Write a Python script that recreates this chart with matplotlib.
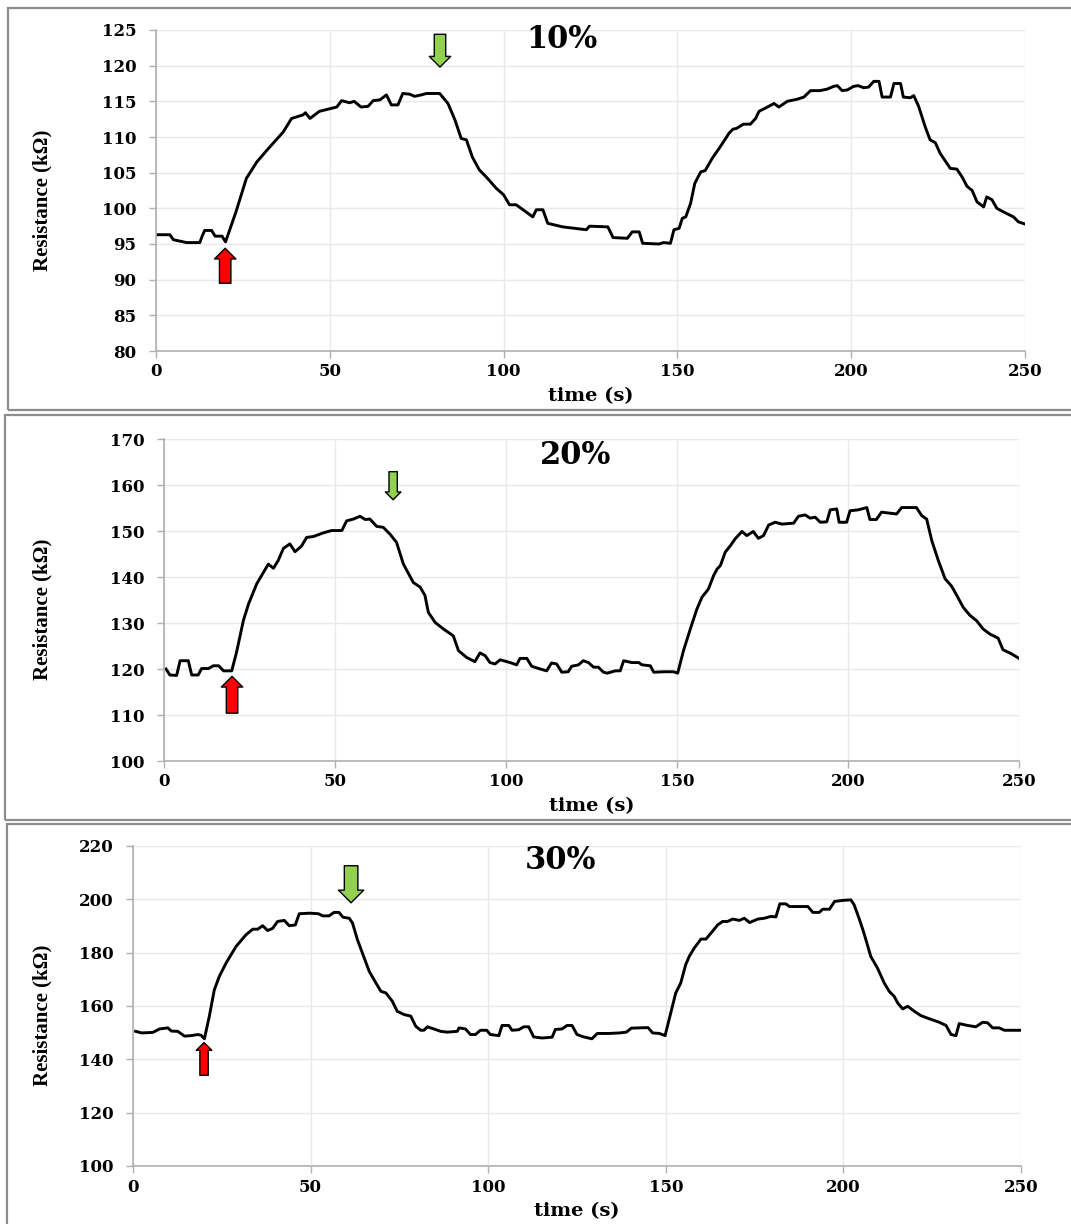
import matplotlib
matplotlib.use("Agg")
import matplotlib.pyplot as plt
from matplotlib.patches import Rectangle

W, H = 1071, 1224

# ---- 10 % ----
t10 = [0, 4, 5, 8.8, 12.6, 13.2, 14, 16, 17, 19, 20, 23, 26, 29, 32, 36.6, 39, 42.3, 43, 44.3,
       47, 52, 53.4, 55.7, 57, 59, 61, 62.5, 64.4, 66.3, 67.7, 69.6, 71, 73, 74.4, 76.3, 77.8,
       81.6, 84, 86, 87.8, 89.3, 91, 93, 95, 97.9, 100, 101.7, 103.6, 105.6, 108.4, 109.4,
       111.3, 112.7, 117, 123.8, 124.7, 130, 131.5, 135.6, 137, 139, 140, 144.7, 146, 148,
       149, 150.5, 151.4, 152.4, 153.8, 155, 156.7, 158, 160, 162, 163.9, 164.8, 166, 167,
       169, 171, 172.5, 173.5, 175.9, 177.8, 179.2, 181.6, 184.5, 186.4, 188.3, 191, 193,
       195, 196, 197.4, 198.9, 200.7, 202, 203.6, 205, 206.5, 208, 208.9, 211.3, 212.3,
       214.2, 215, 217, 218, 219.4, 221.3, 222.7, 224.2, 225.6, 228.5, 230.4, 231.9, 233.3,
       234.8, 236.2, 238.1, 239, 240.5, 241.9, 243.8, 246.7, 248.1, 250]
r10 = [96.3, 96.3, 95.6, 95.2, 95.2, 96.0, 96.9, 96.9, 96.1, 96.1, 95.3, 99.5, 104.2, 106.5,
       108.2, 110.7, 112.6, 113.1, 113.4, 112.6, 113.6, 114.2, 115.1, 114.8, 115.0, 114.2,
       114.3, 115.1, 115.2, 115.9, 114.5, 114.5, 116.1, 116.0, 115.7, 115.9, 116.1, 116.1,
       114.7, 112.4, 109.8, 109.6, 107.2, 105.4, 104.4, 102.8, 101.9, 100.5, 100.5, 99.8,
       98.8, 99.8, 99.8, 97.9, 97.4, 97.0, 97.5, 97.4, 95.9, 95.8, 96.7, 96.7, 95.1, 95.0,
       95.2, 95.1, 97.0, 97.2, 98.6, 98.8, 100.7, 103.5, 105.1, 105.3, 107.0, 108.4, 109.8,
       110.5, 111.1, 111.2, 111.8, 111.8, 112.6, 113.6, 114.2, 114.7, 114.2, 115.0, 115.3,
       115.6, 116.5, 116.5, 116.7, 117.1, 117.2, 116.5, 116.6, 117.1, 117.2, 116.9, 117.0,
       117.8, 117.8, 115.6, 115.6, 117.5, 117.5, 115.6, 115.5, 115.8, 114.3, 111.4, 109.6,
       109.2, 107.7, 105.6, 105.5, 104.4, 103.1, 102.5, 100.9, 100.2, 101.6, 101.2, 100.0,
       99.5, 98.8, 98.1, 97.8]

# ---- 20 % ----
t20 = [0.6, 1.7, 3.7, 4.7, 7.1, 8.1, 10, 11, 13, 14.4, 16, 17.4, 19.8, 21.2, 23.2, 24.7, 27.1,
       30.5, 32, 33.4, 34.9, 36.8, 38.3, 40.2, 41.7, 43.7, 46.6, 49, 52, 53.4, 55.4, 57.3,
       58.8, 60.2, 62.2, 64.1, 66.1, 68, 70, 72.9, 74.9, 76.3, 77.3, 79.3, 81.7, 84.6, 86.1,
       88.5, 90.9, 92.4, 93.9, 95.3, 96.8, 98.3, 101.2, 103.1, 104.1, 106.1, 107.5, 110,
       111.9, 113.3, 114.8, 116.3, 118.2, 119.2, 121.2, 122.6, 124.1, 125.6, 127, 128.5,
       129.6, 132, 133.4, 134.4, 136.8, 138.8, 139.8, 142.2, 143.2, 146.1, 149, 150.2, 151.9,
       153.9, 155.8, 157.3, 159.2, 160.7, 161.7, 162.7, 164.1, 165.6, 167, 169, 170.4, 172.3,
       173.8, 175.3, 176.8, 178.7, 180.7, 184.1, 185.5, 187.5, 188.9, 190.4, 191.9, 193.8,
       194.8, 196.7, 197.4, 199.6, 200.6, 203, 205.5, 206.4, 208.3, 209.8, 214.2, 215.7, 220,
       221.6, 223, 224.5, 226.4, 228.4, 230.3, 231.8, 233.7, 235.6, 237.6, 239.5, 241.5,
       243.9, 245.3, 247.8, 250]
r20 = [120.0, 118.7, 118.6, 121.8, 121.8, 118.7, 118.7, 120.1, 120.1, 120.7, 120.7, 119.6,
       119.6, 123.6, 130.5, 134.1, 138.5, 142.8, 141.9, 143.6, 146.2, 147.2, 145.5, 146.7,
       148.6, 148.8, 149.6, 150.1, 150.1, 152.2, 152.6, 153.2, 152.5, 152.6, 151.0, 150.8,
       149.3, 147.5, 142.8, 138.8, 137.8, 136.0, 132.3, 130.1, 128.7, 127.2, 124.0, 122.5,
       121.6, 123.5, 122.9, 121.4, 121.1, 122.0, 121.4, 120.9, 122.3, 122.3, 120.6, 120.0,
       119.6, 121.3, 121.1, 119.3, 119.4, 120.6, 120.9, 121.8, 121.4, 120.4, 120.4, 119.3,
       119.1, 119.6, 119.6, 121.8, 121.4, 121.4, 120.9, 120.7, 119.3, 119.4, 119.4, 119.1,
       124.0, 128.7, 133.0, 135.6, 137.4, 140.3, 141.7, 142.5, 145.4, 146.8, 148.3, 149.9,
       149.0, 149.9, 148.4, 149.0, 151.3, 151.9, 151.5, 151.7, 153.2, 153.5, 152.8, 153.0,
       151.9, 152.0, 154.6, 154.8, 151.9, 151.9, 154.4, 154.6, 155.1, 152.5, 152.5, 154.1,
       153.7, 155.1, 155.1, 153.3, 152.6, 147.9, 143.6, 139.6, 138.0, 136.0, 133.4, 131.7,
       130.5, 128.7, 127.6, 126.7, 124.2, 123.3, 122.3]

# ---- 30 % ----
t30 = [0.75, 2.4, 5.6, 7.5, 9.8, 10.8, 12.6, 14.5, 16.4, 18.3, 19.2, 20.1, 21.5, 22.9, 24.3,
       26.2, 29, 31.8, 33.7, 35.1, 36.5, 37.9, 39.3, 40.7, 42.6, 44, 45.7, 46.8, 49.8, 52.2,
       53.4, 55.2, 56.6, 58, 59.1, 60.9, 61.8, 63.2, 65.1, 66.5, 68.4, 69.8, 71.2, 73, 74.4,
       76.3, 78.2, 79.6, 81, 81.9, 82.9, 84.7, 86.6, 88.5, 91.3, 91.8, 93.6, 95, 96.4, 97.8,
       99.6, 100.6, 103, 103.9, 105.8, 106.7, 108.6, 110, 111.4, 112.8, 115.2, 118, 118.9,
       120.8, 122.2, 123.6, 125, 126.9, 129.2, 130.7, 134, 137, 138.9, 140.3, 145, 146.3,
       148.2, 149.8, 151.4, 152.8, 154.2, 155.6, 156.6, 158, 159.9, 161.3, 162.7, 164.6, 166,
       167.4, 168.8, 170.7, 172.1, 173.6, 175.9, 177.7, 179.6, 181, 182.1, 183.8, 184.8, 190,
       191.4, 193.2, 194.2, 196.1, 197.5, 199.8, 202.1, 203, 204.4, 205.8, 207.7, 209.6,
       211.5, 212.9, 214.3, 215.3, 216.7, 218.1, 220, 221.8, 224.2, 227, 228.9, 230.3, 231.7,
       232.6, 235, 237.3, 239.2, 240.6, 242, 243.9, 245.3, 250]
r30 = [150.5, 149.9, 150.1, 151.4, 151.8, 150.6, 150.5, 148.7, 148.9, 149.3, 149.0, 147.7,
       156.2, 166.1, 171.1, 176.1, 182.3, 186.7, 188.8, 188.8, 190.1, 188.3, 189.1, 191.7,
       192.1, 190.1, 190.4, 194.6, 194.8, 194.6, 193.8, 193.8, 195.1, 195.1, 193.3, 192.9,
       191.1, 184.8, 178.0, 173.0, 168.6, 165.5, 164.9, 161.8, 158.0, 156.8, 156.2, 152.4,
       150.9, 150.9, 152.2, 151.4, 150.5, 150.2, 150.5, 151.8, 151.4, 149.3, 149.3, 150.9,
       150.9, 149.3, 148.9, 152.7, 152.7, 150.9, 151.1, 152.2, 152.2, 148.4, 148.0, 148.3,
       151.2, 151.4, 152.7, 152.7, 149.3, 148.4, 147.7, 149.7, 149.7, 149.9, 150.2, 151.7,
       151.9, 149.9, 149.7, 148.9, 157.4, 164.9, 168.6, 175.5, 178.6, 181.7, 185.1, 185.1,
       187.3, 190.4, 191.7, 191.7, 192.6, 192.1, 192.9, 191.3, 192.6, 192.9, 193.6, 193.4,
       198.3, 198.3, 197.3, 197.3, 195.1, 195.1, 196.3, 196.3, 199.2, 199.6, 199.8, 198.0,
       192.9, 187.3, 178.6, 174.2, 168.6, 165.5, 163.6, 161.1, 158.9, 159.9, 158.0, 156.4,
       155.2, 153.9, 152.7, 149.3, 148.9, 153.4, 152.7, 152.2, 153.9, 153.7, 151.8, 151.8,
       150.9, 150.9]

titles = ["10%", "20%", "30%"]
ylims = [(80, 125, 5), (100, 170, 10), (100, 220, 20)]
xticks = [0, 50, 100, 150, 200, 250]

# axes boxes in pixels: left, right, top, bottom
boxes = [(156, 1025, 30, 351), (164, 1019, 439, 761), (133, 1021, 846, 1166)]
frames = [(8, 8, 410), (5, 415, 820), (7, 824, 1230)]
title_pos = [(0.467, 0.969), (0.481, 0.950), (0.481, 0.956)]
ylabel_x = [-0.119, -0.131, -0.091]
# arrows: (x, tail, tip, scale)
up_arrows = [(19.9, 89.5, 94.4, 11), (19.9, 110.4, 118.4, 11), (20.0, 134.0, 146.3, 8)]
down_arrows = [(81.7, 124.4, 119.8, 11), (67.0, 162.9, 156.8, 8), (61.4, 212.6, 198.7, 13)]

serif = ["DejaVu Serif"]
fig = plt.figure(figsize=(W / 100, H / 100), dpi=100)

for i, (t, r) in enumerate([(t10, r10), (t20, r20), (t30, r30)]):
    l, rr, top, bot = boxes[i]
    ax = fig.add_axes([l / W, 1 - bot / H, (rr - l) / W, (bot - top) / H])
    ax.plot(t, r, color="black", lw=2.1, solid_joinstyle="round")
    y0, y1, step = ylims[i]
    ax.set_xlim(0, 250)
    ax.set_ylim(y0, y1)
    ax.set_xticks(xticks)
    ax.set_yticks(range(y0, y1 + 1, step))
    ax.grid(True, color="#e9e9e9", lw=1)
    ax.set_axisbelow(True)
    for s in ["top", "right"]:
        ax.spines[s].set_visible(False)
    for s in ["left", "bottom"]:
        ax.spines[s].set_color("#b0b0b0")
        ax.spines[s].set_linewidth(1.2)
    ax.tick_params(colors="#b0b0b0", length=5, width=1, labelcolor="black", pad=4)
    ax.tick_params(axis="y", pad=9)
    for lab in ax.get_xticklabels() + ax.get_yticklabels():
        lab.set_fontfamily(serif)
        lab.set_fontweight("bold")
        lab.set_fontsize(12)
    ax.set_xlabel("time (s)", family=serif, weight="bold", fontsize=14)
    ax.xaxis.set_label_coords(0.5, -0.112)
    ax.set_ylabel("Resistance (kΩ)", family=["Liberation Serif", "DejaVu Serif"],
                  weight="bold", fontsize=15)
    ax.yaxis.set_label_coords(ylabel_x[i], 0.47)
    tx, ty = title_pos[i]
    ax.text(tx, ty, titles[i], transform=ax.transAxes, ha="center", va="center",
            family=serif, weight="bold", fontsize=22)

    x, tail, tip, sc = up_arrows[i]
    ax.annotate("", xy=(x, tip), xytext=(x, tail),
                arrowprops=dict(arrowstyle="simple,head_length=0.7,head_width=1.4,tail_width=0.75",
                                fc="#ff0000", ec="black", lw=1, mutation_scale=sc,
                                shrinkA=0, shrinkB=0))
    x, tail, tip, sc = down_arrows[i]
    ax.annotate("", xy=(x, tip), xytext=(x, tail),
                arrowprops=dict(arrowstyle="simple,head_length=0.7,head_width=1.4,tail_width=0.75",
                                fc="#92d050", ec="black", lw=1, mutation_scale=sc,
                                shrinkA=0, shrinkB=0))

    fx, ft, fb = frames[i]
    fig.add_artist(Rectangle((fx / W, 1 - fb / H), (1080 - fx) / W, (fb - ft) / H,
                             transform=fig.transFigure, fill=False, ec="#8c8c8c", lw=1.6))

fig.savefig("out.png", dpi=100)
